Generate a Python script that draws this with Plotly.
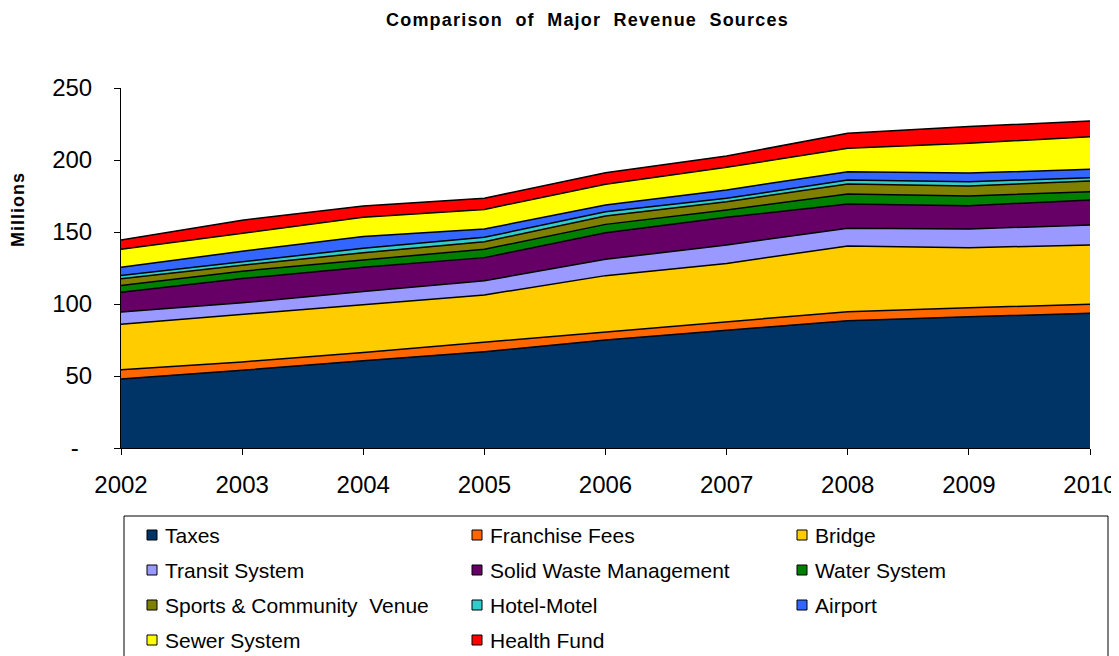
import plotly.graph_objects as go

years = [2002, 2003, 2004, 2005, 2006, 2007, 2008, 2009, 2010]

taxes = [48.0, 54.0, 60.6, 66.9, 75.0, 81.9, 88.4, 91.2, 93.5]
franchise_fees = [6.3, 5.8, 5.8, 6.5, 5.8, 5.8, 6.3, 6.2, 6.3]
bridge = [31.7, 32.9, 32.9, 32.9, 38.9, 40.5, 45.6, 41.7, 41.2]
transit_system = [8.5, 8.1, 9.3, 9.9, 11.3, 12.8, 12.3, 13.0, 13.9]
solid_waste = [13.7, 16.9, 16.9, 16.0, 18.5, 19.2, 16.8, 16.2, 17.3]
water_system = [4.6, 5.1, 5.1, 5.8, 5.8, 5.1, 7.0, 6.7, 5.8]
sports_venue = [4.7, 4.1, 5.0, 5.3, 5.8, 5.7, 6.9, 6.9, 7.4]
hotel_motel = [2.3, 2.3, 3.1, 3.0, 3.0, 2.4, 2.8, 3.0, 2.3]
airport = [5.8, 7.4, 8.1, 5.8, 4.7, 5.8, 5.8, 6.0, 5.8]
sewer_system = [12.5, 12.8, 13.4, 13.6, 14.3, 15.7, 16.2, 20.8, 22.7]
health_fund = [6.4, 8.8, 7.8, 7.7, 8.1, 7.9, 10.4, 11.5, 10.8]

series = [
    ('Taxes', taxes, '#003366'),
    ('Franchise Fees', franchise_fees, '#FF6600'),
    ('Bridge', bridge, '#FFCC00'),
    ('Transit System', transit_system, '#9999FF'),
    ('Solid Waste Management', solid_waste, '#660066'),
    ('Water System', water_system, '#008000'),
    ('Sports & Community  Venue', sports_venue, '#808000'),
    ('Hotel-Motel', hotel_motel, '#33CCCC'),
    ('Airport', airport, '#3366FF'),
    ('Sewer System', sewer_system, '#FFFF00'),
    ('Health Fund', health_fund, '#FF0000'),
]

OFF = 8  # the page body margin shifts the figure by 8px
W, H = 1119 - OFF, 656 - OFF
L, R, T, B = 121, 1090, 88, 448  # plot area in window pixels


def px(x):
    return (x - L) / (R - L)


def py(y):
    return (B - y) / (B - T)


fig = go.Figure()
for name, values, color in series:
    fig.add_scatter(x=years, y=values, name=name, stackgroup='rev', mode='lines',
                    line=dict(color='black', width=1.5), fillcolor=color,
                    showlegend=False, hoverinfo='x+y+name')

# legend drawn by hand: 3 columns, 4 rows, boxed
shapes = [dict(type='rect', xref='paper', yref='paper',
               x0=px(124), x1=px(1108), y0=py(516), y1=py(680),
               line=dict(color='black', width=1), fillcolor='white', layer='below')]
annotations = []
col_x = [147, 472, 797]
row_y = [535, 570, 605, 640]
for i, (name, values, color) in enumerate(series):
    cx = col_x[i % 3]
    cy = row_y[i // 3]
    shapes.append(dict(type='rect', xref='paper', yref='paper',
                       x0=px(cx), x1=px(cx + 10), y0=py(cy - 5), y1=py(cy + 5),
                       line=dict(color='black', width=1), fillcolor=color))
    annotations.append(dict(text=name, xref='paper', yref='paper', x=px(cx + 16), y=py(cy),
                            xanchor='left', yanchor='middle', showarrow=False,
                            font=dict(size=21, color='black')))

annotations.append(dict(text='<span style="letter-spacing:1.2px"><b>Comparison  of  Major  Revenue  Sources</b></span>',
                        xref='paper', yref='paper',
                        x=px(587), y=py(20), xanchor='center', yanchor='middle', showarrow=False,
                        font=dict(size=18, color='black')))
annotations.append(dict(text='<span style="letter-spacing:1px"><b>Millions</b></span>',
                        xref='paper', yref='paper', x=px(18), y=py(210),
                        xanchor='center', yanchor='middle', showarrow=False, textangle=-90,
                        font=dict(size=18, color='black')))

fig.update_layout(
    width=W, height=H,
    margin=dict(l=L - OFF, r=W - (R - OFF), t=T - OFF, b=H - (B - OFF), autoexpand=False),
    paper_bgcolor='white', plot_bgcolor='white',
    font=dict(family='Arial', color='black'),
    shapes=shapes, annotations=annotations,
    showlegend=False,
)
fig.update_xaxes(range=[2002, 2010], tickvals=years, showline=True, linecolor='black', linewidth=1,
                 ticks='outside', ticklen=6, tickcolor='black', showgrid=False, zeroline=False,
                 tickfont=dict(size=24), ticklabelstandoff=9, automargin=False)
fig.update_yaxes(range=[0, 250], tickvals=[0, 50, 100, 150, 200, 250],
                 ticktext=['-\u2007', '50', '100', '150', '200', '250'],
                 showline=True, linecolor='black', linewidth=1, ticks='outside', ticklen=6,
                 tickcolor='black', showgrid=False, zeroline=False,
                 tickfont=dict(size=24), ticklabelstandoff=17, automargin=False)

fig.write_html("out.html")
